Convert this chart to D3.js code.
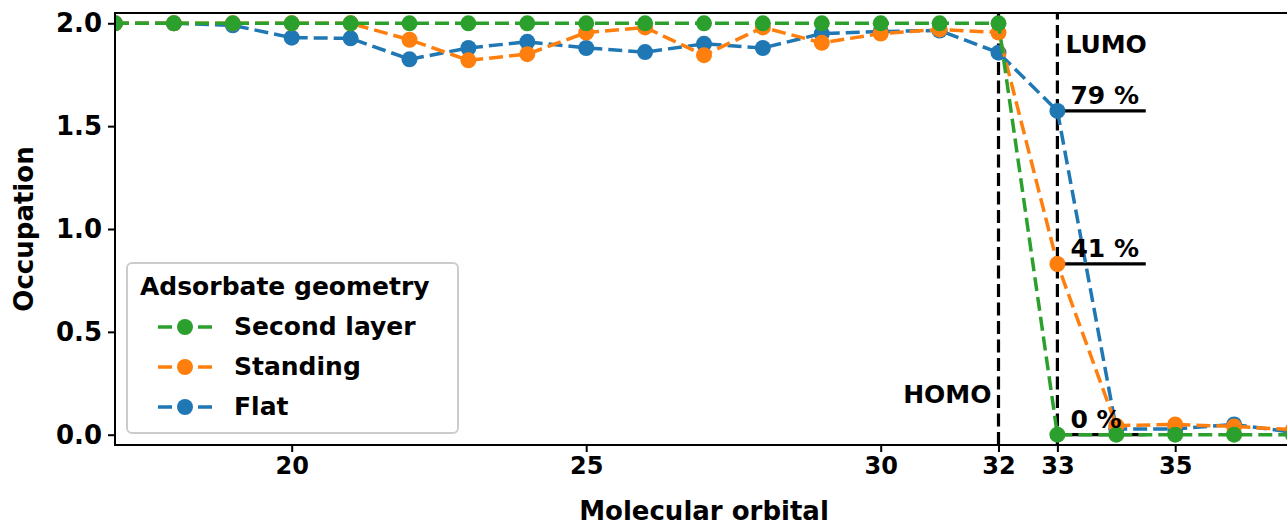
<!DOCTYPE html>
<html>
<head>
<meta charset="utf-8">
<script src="https://cdn.jsdelivr.net/npm/d3@7"></script>
<style>
  body { margin: 0; background: #fff; }
  text { font-family: "DejaVu Sans", sans-serif; font-weight: bold; }
</style>
</head>
<body>
<script>
// molecular orbital index and occupation per geometry
var orbitals = [17, 18, 19, 20, 21, 22, 23, 24, 25, 26, 27, 28, 29, 30, 31, 32, 33, 34, 35, 36, 37];
var secondLayer = [2.0, 2.0, 2.0, 2.0, 2.0, 2.0, 2.0, 2.0, 2.0, 2.0, 2.0, 2.0, 2.0, 2.0, 2.0, 2.0, 0.0, 0.0, 0.0, 0.0, 0.0];
var standing = [2.0, 2.0, 2.0, 2.0, 2.0, 1.92, 1.82, 1.85, 1.955, 1.98, 1.845, 1.98, 1.905, 1.95, 1.97, 1.955, 0.83, 0.044, 0.05, 0.04, 0.025];
var flat = [2.0, 2.0, 1.99, 1.93, 1.927, 1.825, 1.88, 1.91, 1.88, 1.86, 1.90, 1.88, 1.95, 1.96, 1.965, 1.857, 1.574, 0.028, 0.028, 0.05, 0.012];

var seriesNames = ["Second layer", "Standing", "Flat"];
var seriesColors = ["#2ca02c", "#ff7f0e", "#1f77b4"];

var xTicks = [20, 25, 30, 32, 33, 35];
var yTicks = [0.0, 0.5, 1.0, 1.5, 2.0];

// HOMO / LUMO and LUMO occupation marks
var homo = 32, lumo = 33;
var lumoLabels = ["79 %", "41 %", "0 %"];
var lumoValues = [flat[16], standing[16], secondLayer[16]];

var width = 1287, height = 526;
var margin = {left: 115, top: 13, right: -6, bottom: 81};

var svg = d3.select("body").append("svg")
  .attr("width", width)
  .attr("height", height);

var x = d3.scaleLinear().domain([17, 37]).range([margin.left, width - margin.right]);
var y = d3.scaleLinear().domain([-0.05, 2.05]).range([height - margin.bottom, margin.top]);

svg.append("defs").append("clipPath").attr("id", "plot")
  .append("rect")
  .attr("x", x(17)).attr("y", y(2.05))
  .attr("width", x(37) - x(17)).attr("height", y(-0.05) - y(2.05));

// annotation lines go under the data
var ann = svg.append("g").attr("clip-path", "url(#plot)");

lumoValues.forEach(function (v) {
  ann.append("line")
    .attr("x1", x(lumo)).attr("x2", x(34.5))
    .attr("y1", y(v)).attr("y2", y(v))
    .attr("stroke", "black")
    .attr("stroke-width", 3.2);
});

[homo, lumo].forEach(function (o) {
  ann.append("line")
    .attr("x1", x(o)).attr("x2", x(o))
    .attr("y1", y(-0.05)).attr("y2", y(2.05))
    .attr("stroke", "black")
    .attr("stroke-width", 3.2)
    .attr("stroke-dasharray", "13,5.5");
});

var line = d3.line()
  .x(function (d) { return x(d[0]); })
  .y(function (d) { return y(d[1]); });

// draw Flat first, Second layer on top
var allSeries = [secondLayer, standing, flat];
var plot = svg.append("g").attr("clip-path", "url(#plot)");
[2, 1, 0].forEach(function (i) {
  var pts = orbitals.map(function (o, j) { return [o, allSeries[i][j]]; });
  var g = plot.append("g");
  g.append("path")
    .attr("d", line(pts))
    .attr("fill", "none")
    .attr("stroke", seriesColors[i])
    .attr("stroke-width", 3.5)
    .attr("stroke-dasharray", "14,6");
  g.selectAll("circle").data(pts).enter().append("circle")
    .attr("cx", function (d) { return x(d[0]); })
    .attr("cy", function (d) { return y(d[1]); })
    .attr("r", 8)
    .attr("fill", seriesColors[i]);
});

// text annotations
svg.append("text").attr("x", x(homo) - 7).attr("y", 403)
  .attr("text-anchor", "end").style("font-size", "25px").text("HOMO");
svg.append("text").attr("x", x(lumo) + 8).attr("y", 53)
  .style("font-size", "25px").text("LUMO");
lumoLabels.forEach(function (t, i) {
  svg.append("text")
    .attr("x", x(lumo) + 13)
    .attr("y", y(lumoValues[i]) - 7)
    .style("font-size", "25px")
    .text(t);
});

// axes
var xAxis = svg.append("g")
  .attr("transform", "translate(0," + y(-0.05) + ")")
  .call(d3.axisBottom(x).tickValues(xTicks).tickSize(7).tickPadding(5).tickFormat(d3.format("d")));
var yAxis = svg.append("g")
  .attr("transform", "translate(" + x(17) + ",0)")
  .call(d3.axisLeft(y).tickValues(yTicks).tickSize(7).tickPadding(6).tickFormat(d3.format(".1f")));

[xAxis, yAxis].forEach(function (a) {
  a.select(".domain").remove();
  a.selectAll(".tick line").attr("stroke", "black").attr("stroke-width", 2);
  a.selectAll(".tick text").attr("fill", "black")
    .style("font-family", "'DejaVu Sans', sans-serif").style("font-weight", "bold");
});
xAxis.selectAll(".tick text").style("font-size", "24px");
yAxis.selectAll(".tick text").style("font-size", "26px");

// frame
svg.append("rect")
  .attr("x", x(17)).attr("y", y(2.05))
  .attr("width", x(37) - x(17)).attr("height", y(-0.05) - y(2.05))
  .attr("fill", "none")
  .attr("stroke", "black")
  .attr("stroke-width", 2);

svg.append("text")
  .attr("x", (x(17) + x(37)) / 2).attr("y", 520)
  .attr("text-anchor", "middle").style("font-size", "26px")
  .text("Molecular orbital");
svg.append("text")
  .attr("transform", "translate(33," + ((y(-0.05) + y(2.05)) / 2) + ") rotate(-90)")
  .attr("text-anchor", "middle").style("font-size", "26px")
  .text("Occupation");

// legend
var legend = svg.append("g");
legend.append("rect")
  .attr("x", 127).attr("y", 263)
  .attr("width", 331).attr("height", 170)
  .attr("rx", 5)
  .attr("fill", "white").attr("fill-opacity", 0.8)
  .attr("stroke", "#cccccc").attr("stroke-width", 2);
legend.append("text").attr("x", 140).attr("y", 295)
  .style("font-size", "25px").text("Adsorbate geometry");
seriesNames.forEach(function (name, i) {
  var cy = 327 + i * 40;
  legend.append("line")
    .attr("x1", 158).attr("x2", 212)
    .attr("y1", cy).attr("y2", cy)
    .attr("stroke", seriesColors[i])
    .attr("stroke-width", 3.5)
    .attr("stroke-dasharray", "14,6");
  legend.append("circle").attr("cx", 185).attr("cy", cy).attr("r", 8)
    .attr("fill", seriesColors[i]);
  legend.append("text").attr("x", 234).attr("y", cy + 8)
    .style("font-size", "25px").text(name);
});
</script>
</body>
</html>
